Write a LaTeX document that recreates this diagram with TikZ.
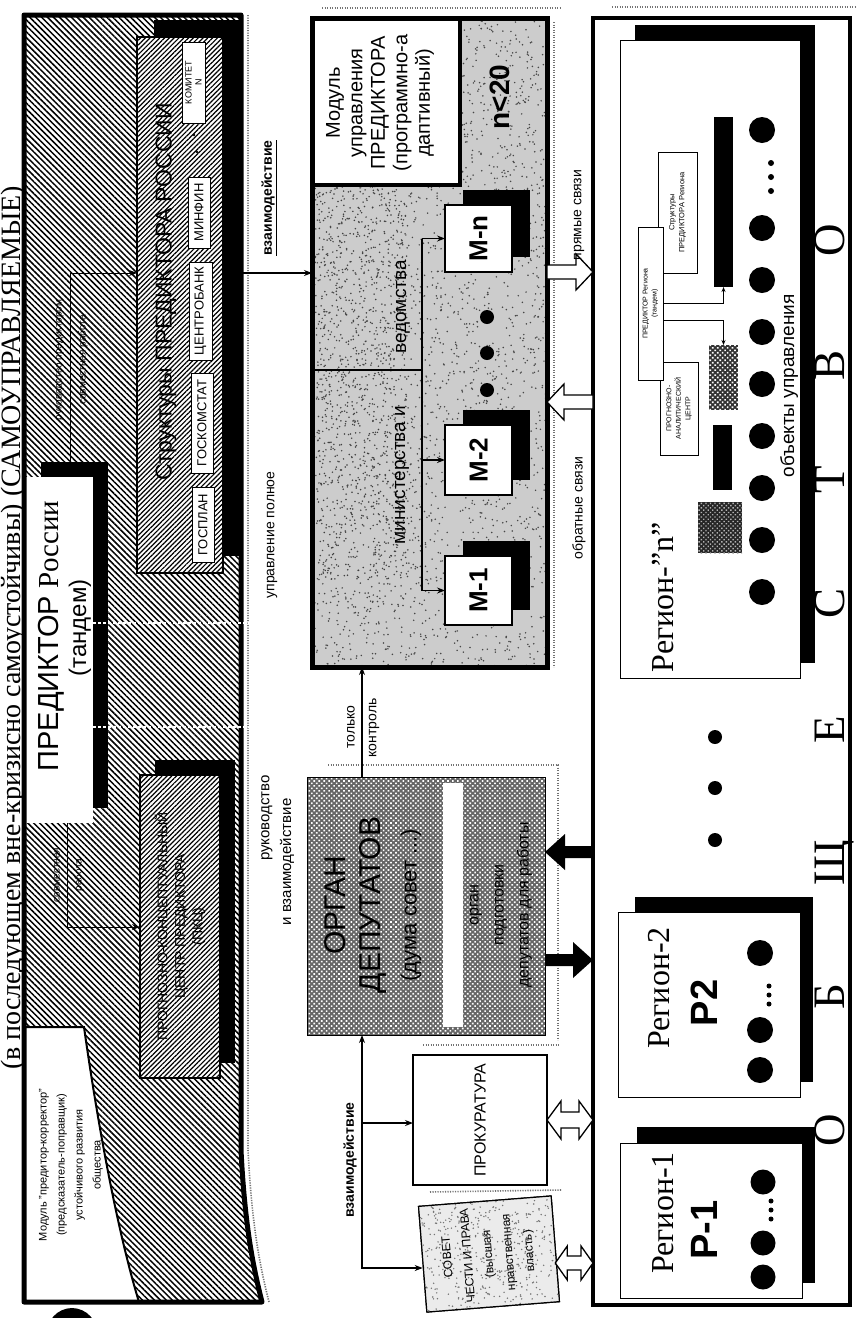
\documentclass[tikz,border=0pt]{standalone}
\usepackage{fontspec}
\setmainfont{Liberation Serif}
\setsansfont{Liberation Sans}
\usetikzlibrary{patterns.meta,arrows.meta,fit,calc}
\newcommand{\fsz}[2]{\fontsize{#1}{#2}\selectfont}
\begin{document}
\begin{tikzpicture}[x=1pt,y=-1pt,
  box/.style={inner sep=0pt,outer sep=0pt,draw=black,line width=1.2pt,fill=white},
  shadowbox/.style={inner sep=0pt,outer sep=0pt,fill=black,draw=none},
  area/.style={inner sep=0pt,outer sep=0pt},
  rt/.style={rotate=90,inner sep=0.5pt,align=center},
  conn/.style={line width=1.3pt,-{Stealth[length=8pt,width=6pt]}},
  thinconn/.style={line width=0.9pt,-{Stealth[length=5pt,width=4pt]}},
  hatchA/.style={pattern={Lines[angle=-45,distance=4.2pt,line width=1.5pt]},pattern color=black},
  hatchB/.style={preaction={fill=white},pattern={Lines[angle=45,distance=3.4pt,line width=1.2pt]},pattern color=black},
  checker/.style={preaction={fill=black!60},pattern={Dots[radius=1.15pt,distance=3.5pt,angle=45]},pattern color=white},
  garble/.style={line width=1.6pt,black!55,dash pattern=on 1.2pt off 1.3pt},
  hollow/.style={draw=black,line width=1.3pt,fill=white,line join=miter},
]
\fill[white] (0,0) rectangle (865,1318);
\useasboundingbox (0,0) rectangle (865,1318);
\clip (0,0) rectangle (865,1318);

% ---------------- title
\node[rotate=90,anchor=base,font=\fsz{28}{28}] (title) at (20,628)
  {(в последующем вне-кризисно самоустойчивы) (САМОУПРАВЛЯЕМЫЕ)};

% torn edges
\draw[garble] (322,8) -- (560,8);
\draw[garble] (612,7) -- (855,7);

% ================= TOP PANEL: predictor
\path[hatchA] (24,15) -- (241,15) -- (241,1150) .. controls (245,1230) and (254,1270) .. (262,1302) -- (24,1302) -- cycle;

% predictor box
\node[shadowbox,fit={(41,462)(108,808)}] (predsh) {};
\node[box,draw=none,fit={(26,477)(93,823)}] (pred) {};
\node[rt] (predt) at (51,636) {\sffamily\fsz{29}{29}ПРЕДИКТОР \rmfamily России};
\node[rt,font=\sffamily\fsz{24}{24}] (tand) at (80,628) {(тандем)};

% structures of predictor
\node[shadowbox,fit={(154,20)(240,556)}] (structsh) {};
\node[box,hatchB,fit={(137,37)(223,573)}] (struct) {};
\node[rt,font=\sffamily\fsz{23}{23}] (structt) at (166,292) {Структуры ПРЕДИКТОРА РОССИИ};
\node[box,line width=1pt,fit={(182,42)(205,123)}] (komitet) {};
\node[rt,font=\sffamily\fsz{9}{10}] (komitett) at (komitet) {КОМИТЕТ\\N};
\node[box,line width=1pt,fit={(188,177)(210,248)}] (minfin) {};
\node[rt,font=\sffamily\fsz{13}{13}] (minfint) at (minfin) {МИНФИН};
\node[box,line width=1pt,fit={(189,262)(212,360)}] (cbank) {};
\node[rt,font=\sffamily\fsz{13}{13}] (cbankt) at (cbank) {ЦЕНТРОБАНК};
\node[box,line width=1pt,fit={(191,373)(213,473)}] (gks) {};
\node[rt,font=\sffamily\fsz{13}{13}] (gkst) at (gks) {ГОСКОМСТАТ};
\node[box,line width=1pt,fit={(192,487)(214,562)}] (gosplan) {};
\node[rt,font=\sffamily\fsz{13}{13}] (gosplant) at (gosplan) {ГОСПЛАН};
\fill (194,135) circle (1.3);
\fill (197,152) circle (1.3);

% prognostic-conceptual centre
\node[shadowbox,fit={(155,760)(235,1063)}] (pkcsh) {};
\node[box,hatchB,fit={(140,775)(220,1078)}] (pkc) {};
\node[rt,font=\sffamily\fsz{14}{17.5}] (pkct) at (pkc) {ПРОГНОЗНО-КОНЦЕПТУАЛЬНЫЙ\\ЦЕНТР ПРЕДИКТОРА\\(ПКЦ)};

% module predictor-corrector
\path[fill=white] (26,1027) -- (84,1027) .. controls (100,1140) and (120,1240) .. (139,1302) -- (26,1302) -- cycle;
\draw[line width=2pt] (26,1027) -- (84,1027) .. controls (100,1140) and (120,1240) .. (139,1302);
\node[rt,font=\sffamily\fsz{11}{18}] (modpk) at (71,1165)
  {Модуль "предитор-корректор"\\(предсказатель-поправщик)\\устойчивого развития\\общества};

% panel border
\draw[line width=5pt,line join=round] (24,15) -- (241,15) -- (241,1150) .. controls (245,1230) and (254,1270) .. (262,1302) -- (24,1302) -- cycle;
\draw[garble] (248,15) -- (248,1150) .. controls (252,1230) and (261,1270) .. (269,1302);

% connectors inside the panel
\draw[conn,line width=1pt] (predsh.north -| 70,0) |- (struct.west |- 0,273);
\node[rt,font=\sffamily\fsz{10}{10}] (lrp) at (60,360) {руководство предиктором};
\node[rt,font=\sffamily\fsz{10}{10}] (lsr1) at (83,360) {совместная работа};
\draw[conn,line width=1pt] (pred.south -| 67,0) |- (pkc.west |- 0,927);
\node[rt,font=\sffamily\fsz{10}{10}] (lsr2) at (57,875) {совместная};
\node[rt,font=\sffamily\fsz{10}{10}] (lsr3) at (79,875) {работа};

\coordinate (wdA) at (252,623);
\coordinate (wdB) at (252,727);
\draw[white,line width=2.4pt,dash pattern=on 3pt off 2pt] (pred.east |- wdA) -- (wdA);
\draw[white,line width=2.4pt,dash pattern=on 3pt off 2pt] (pred.east |- wdB) -- (wdB);

% ================= MIDDLE: ministries
\node[area,fit={(312,18)(547,667)}] (min) {};
\begin{scope}
  \clip (min.north west) rectangle (min.south east);
  \fill[black!20] (min.north west) rectangle (min.south east);
  \pgfmathsetseed{5}
  \foreach \i in {1,...,2800}{\fill[black!72] ({429.5+117.5*rand},{342.5+324.5*rand}) circle (0.85);}
  \foreach \i in {1,...,900}{\fill[black!75] ({362+45*rand},{330+250*rand}) circle (0.85);}
\end{scope}
\node[box,draw=none,fit={(315,20)(460,185)}] (modup) {};
\draw[line width=4pt] (modup.north east) -- (modup.south east) -- (modup.south west);
\node[rt,font=\sffamily\fsz{20}{22.5}] (modupt) at (380,103) {Модуль\\управления\\ПРЕДИКТОРА\\(программно-а\\даптивный)};
\node[rt,font=\sffamily\bfseries\fsz{28}{28}] (nlt) at (500,97) {n<20};

\node[rt,font=\sffamily\fsz{19}{19}] (minist) at (402,475) {министерства и};
\node[rt,font=\sffamily\fsz{19}{19}] (vedom) at (403,307) {ведомства};

\node[shadowbox,fit={(463,190)(530,257)}] (mnsh) {};
\node[box,line width=1.5pt,fit={(445,205)(512,272)}] (mn) {};
\node[rt,font=\sffamily\bfseries\fsz{26}{26}] (mnt) at (mn) {М-n};
\node[shadowbox,fit={(463,410)(530,480)}] (m2sh) {};
\node[box,line width=1.5pt,fit={(445,425)(512,495)}] (m2) {};
\node[rt,font=\sffamily\bfseries\fsz{26}{26}] (m2t) at (m2) {М-2};
\node[shadowbox,fit={(463,541)(530,610)}] (m1sh) {};
\node[box,line width=1.5pt,fit={(445,556)(512,625)}] (m1) {};
\node[rt,font=\sffamily\bfseries\fsz{26}{26}] (m1t) at (m1) {М-1};

\path (mn.west -| 422,0) coordinate (bus1) (m1.west -| 422,0) coordinate (bus2);
\draw[line width=1.3pt] (bus1) -- (bus2);
\draw[line width=1.3pt] (min.west |- 0,370) -- (bus1 |- 0,370);
\draw[conn,line width=1.2pt] (bus1) -- (mn.west);
\draw[conn,line width=1.2pt] (m2.west -| bus1) -- (m2.west);
\draw[conn,line width=1.2pt] (bus2) -- (m1.west);
\foreach \yy in {317,353,390} \fill (487,\yy) circle (7);

\draw[line width=5pt] (min.north west) rectangle (min.south east);
\draw[garble] (554,22) -- (554,667);

% interaction from predictor panel
\draw[conn] (241,273) coordinate (pout) -- (min.west |- pout);
\node[rt,font=\sffamily\bfseries\fsz{14}{14}] (lvz) at (269,198) {\underline{взаимодействие}};
\node[rt,font=\sffamily\fsz{14}{14}] (lup) at (272,535) {управление полное};
\node[rt,font=\sffamily\fsz{15}{15}] (lruk) at (267,818) {руководство};
\node[rt,font=\sffamily\fsz{15}{15}] (lruk2) at (287,862) {и взаимодействие};

% ================= deputies
\draw[garble] (328,765) -- (558,765) -- (558,1040);
\node[area,checker,draw=black,line width=1pt,fit={(307,777)(545,1035)}] (organ) {};
\node[area,fill=white,fit={(443,783)(463,1027)}] (organgap) {};
\node[rt,font=\sffamily\fsz{30}{30}] (organt1) at (335,905) {ОРГАН};
\node[rt,font=\sffamily\fsz{30}{30}] (organt2) at (373,905) {ДЕПУТАТОВ};
\node[rt,font=\sffamily\fsz{22}{22}] (organt3) at (411,905) {(дума совет ...)};
\node[rt,font=\sffamily\fsz{16}{25}] (organt4) at (501,905) {орган\\подготовки\\депутатов для работы};

\draw[conn] (organ.north -| 362,0) -- (min.south -| 362,0);
\node[rt,font=\sffamily\fsz{14}{14}] (ltol) at (351,727) {только};
\node[rt,font=\sffamily\fsz{14}{14}] (lkon) at (374,728) {контроль};

% prosecutor and council
\draw[garble] (423,1045) -- (560,1045);
\node[box,fit={(413,1055)(547,1185)}] (prok) {};
\node[rt,font=\sffamily\fsz{16}{16}] (prokt) at (prok) {ПРОКУРАТУРА};

\draw[garble] (430,1192) -- (562,1190);
\node[box,rotate=4.5,minimum width=133pt,minimum height=106pt] (sovet) at (489,1254) {};
\begin{scope}
  \clip (sovet.north west) -- (sovet.north east) -- (sovet.south east) -- (sovet.south west) -- cycle;
  \fill[black!8] (400,1180) rectangle (580,1318);
  \pgfmathsetseed{9}
  \foreach \i in {1,...,500}{\fill[black!55] ({489+70*rand},{1254+60*rand}) circle (0.8);}
\end{scope}
\draw[line width=1.2pt] (sovet.north west) -- (sovet.north east) -- (sovet.south east) -- (sovet.south west) -- cycle;
\node[rotate=94.5,align=center,font=\sffamily\fsz{12}{20.5}] (sovett) at (sovet) {СОВЕТ\\ЧЕСТИ И ПРАВА\\(высшая\\нравственная\\власть)};

\draw[line width=1.3pt,{Stealth[length=8pt,width=6pt]}-{Stealth[length=8pt,width=6pt]}]
  (organ.south -| 362,0) -- (362,1268) coordinate (vbend) -- (sovet.west |- vbend);
\draw[conn] (362,1123) coordinate (vbj) -- (prok.west |- vbj);
\node[rt,font=\sffamily\bfseries\fsz{14}{14}] (lvz2) at (350,1160) {взаимодействие};

% ================= REGIONS
\node[area,draw=black,line width=3.5pt,fit={(593,18)(850,1305)}] (reg) {};

% region n
\node[shadowbox,fit={(635,25)(815,663)}] (rnsh) {};
\node[box,line width=1pt,fit={(620,40)(800,678)}] (rn) {};
\node[rt,font=\fsz{32}{32}] (rnt) at (663,597) {Регион-"n"};
\foreach \yy in {592,540,488,436,384,332,280,228,130} \fill (762,\yy) circle (13);
\foreach \yy in {163,177,191} \fill (771,\yy) circle (3);
\node[rt,font=\sffamily\fsz{19}{19}] (objt) at (789,386) {объекты управления};
\node[shadowbox,fit={(714,117)(733,287)}] (bar) {};
\node[area,checker,preaction={fill=black!80},fit={(709,345)(738,410)}] (chk) {};
\node[shadowbox,fit={(713,425)(732,490)}] (bar2) {};
\node[area,preaction={fill=black!85},pattern={Dots[radius=1pt,distance=3.2pt,angle=45]},pattern color=white!70!black,fit={(698,502)(742,553)}] (sq) {};
\node[box,line width=0.8pt,fit={(658,152)(697,273)}] (strr) {};
\node[rt,font=\sffamily\fsz{7.5}{10}] (strrt) at (strr) {Структуры\\ПРЕДИКТОРА Региона};
\node[box,line width=0.8pt,fit={(660,362)(698,455)}] (pac) {};
\node[rt,font=\sffamily\fsz{7}{9.5}] (pact) at (pac) {ПРОГНОЗНО-\\АНАЛИТИЧЕСКИЙ\\ЦЕНТР};
\node[box,line width=1pt,fit={(638,227)(663,380)}] (prr) {};
\node[rt,font=\sffamily\fsz{7}{9}] (prrt) at (prr) {ПРЕДИКТОР Региона\\(тандем)};
\draw[thinconn] (prr.east |- 0,303) -| (bar.south);
\draw[thinconn] (prr.east |- 0,320) -| (chk.north);

% region 2
\node[shadowbox,fit={(635,897)(813,1082)}] (r2sh) {};
\node[box,line width=1pt,fit={(618,912)(800,1097)}] (r2) {};
\node[rt,font=\fsz{32}{32}] (r2t) at (659,988) {Регион-2};
\node[rt,font=\sffamily\bfseries\fsz{38}{38}] (r2p) at (704,1003) {Р2};
\foreach \yy in {953,1030,1070} \fill (760,\yy) circle (13);
\foreach \yy in {986,995,1004} \fill (769,\yy) circle (2.5);

% region 1
\node[shadowbox,fit={(637,1127)(815,1283)}] (r1sh) {};
\node[box,line width=1pt,fit={(620,1143)(802,1298)}] (r1) {};
\node[rt,font=\fsz{32}{32}] (r1t) at (663,1213) {Регион-1};
\node[rt,font=\sffamily\bfseries\fsz{38}{38}] (r1p) at (704,1230) {Р-1};
\foreach \yy in {1182,1243,1277} \fill (763,\yy) circle (12.5);
\foreach \yy in {1201,1210,1219} \fill (771,\yy) circle (2.5);

\foreach \yy in {737,788,840} \fill (715,\yy) circle (7);

% letters ОБЩЕСТВО
\foreach \l/\yy/\nm in {О/240/o1, В/365/v, Т/480/t, С/603/s, Е/730/e, Щ/863/shch, Б/997/b, О/1130/o2}
  \node[rotate=90,anchor=base,inner sep=0pt,font=\fsz{45}{45}] (L\nm) at (844,\yy) {\l};

% ================= links between bands
\path (min.east |- 0,272) coordinate (pa) (reg.west |- 0,272) coordinate (pb);
\draw[hollow] ($(pa)+(0,-7)$) -- ($(pb)+(-17,-7)$) -- ($(pb)+(-17,-18)$) -- (pb) -- ($(pb)+(-17,18)$) -- ($(pb)+(-17,7)$) -- ($(pa)+(0,7)$) -- cycle;
\node[rt,font=\sffamily\fsz{14}{14}] (lpr) at (579,215) {прямые связи};
\path (reg.west |- 0,402) coordinate (fa) (min.east |- 0,402) coordinate (fb);
\draw[hollow] ($(fa)+(0,-7)$) -- ($(fb)+(17,-7)$) -- ($(fb)+(17,-18)$) -- (fb) -- ($(fb)+(17,18)$) -- ($(fb)+(17,7)$) -- ($(fa)+(0,7)$) -- cycle;
\node[rt,font=\sffamily\fsz{14}{14}] (lob) at (579,508) {обратные связи};
\path (reg.west |- 0,852) coordinate (ka) (organ.east |- 0,852) coordinate (kb);
\fill ($(ka)+(0,-6)$) -- ($(kb)+(20,-6)$) -- ($(kb)+(20,-18)$) -- (kb) -- ($(kb)+(20,18)$) -- ($(kb)+(20,6)$) -- ($(ka)+(0,6)$) -- cycle;
\path (organ.east |- 0,960) coordinate (kc) (reg.west |- 0,960) coordinate (kd);
\fill ($(kc)+(0,-6)$) -- ($(kd)+(-20,-6)$) -- ($(kd)+(-20,-18)$) -- (kd) -- ($(kd)+(-20,18)$) -- ($(kd)+(-20,6)$) -- ($(kc)+(0,6)$) -- cycle;
\path (prok.east |- 0,1120) coordinate (da) (reg.west |- 0,1120) coordinate (db);
\draw[hollow] (da) -- ($(da)+(14,-19)$) -- ($(da)+(14,-8)$) -- ($(db)+(-14,-8)$) -- ($(db)+(-14,-19)$) -- (db) -- ($(db)+(-14,19)$) -- ($(db)+(-14,8)$) -- ($(da)+(14,8)$) -- ($(da)+(14,19)$) -- cycle;
\path (sovet.east |- 0,1263) coordinate (ea) (reg.west |- 0,1263) coordinate (eb);
\draw[hollow] (ea) -- ($(ea)+(12,-17)$) -- ($(ea)+(12,-7)$) -- ($(eb)+(-12,-7)$) -- ($(eb)+(-12,-17)$) -- (eb) -- ($(eb)+(-12,17)$) -- ($(eb)+(-12,7)$) -- ($(ea)+(12,7)$) -- ($(ea)+(12,17)$) -- cycle;

\fill (72,1336) ellipse (26 and 28);
\end{tikzpicture}
\end{document}
